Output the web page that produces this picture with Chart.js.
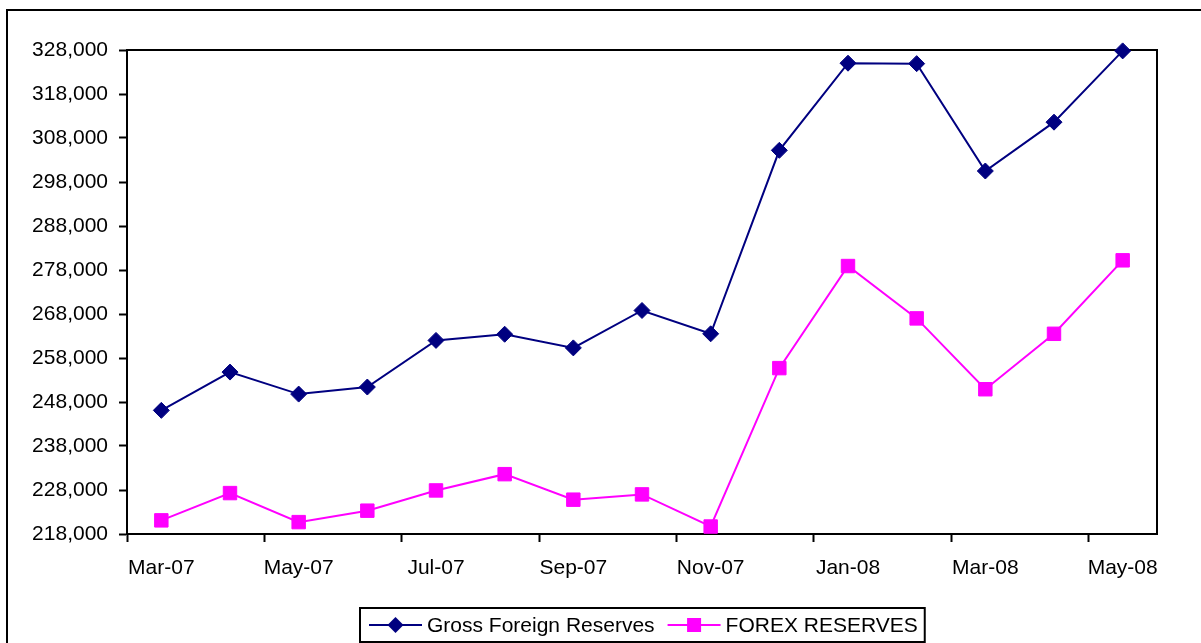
<!DOCTYPE html>
<html>
<head>
<meta charset="utf-8">
<script src="https://cdn.jsdelivr.net/npm/chart.js@4.4.1/dist/chart.umd.min.js"></script>
<style>
html,body{margin:0;padding:0;background:#fff;}
</style>
</head>
<body>
<canvas id="reserveChart" width="1201" height="643"></canvas>
<script>

/* ================= DATA ================= */
const months=[
"Mar-07","Apr-07","May-07","Jun-07","Jul-07","Aug-07","Sep-07",
"Oct-07","Nov-07","Dec-07","Jan-08","Feb-08","Mar-08","Apr-08","May-08"
];

const grossReserves=[
246100,254800,249800,251400,262000,263400,260300,
268800,263500,305200,325000,324900,300500,311600,327800
];

const forexReserves=[
221100,227300,220700,223300,227900,231600,225800,
227000,219700,255700,278900,267000,250900,263500,280200
];

const seriesNames=["Gross Foreign Reserves","FOREX RESERVES"];

const yMin=218000;
const yMax=328000;
const yStep=10000;

const FONT="'Liberation Sans', Arial, sans-serif";
const FONT_SIZE=21;

/* ================= PLUGINS ================= */
/* outer frame + plot box */
const framePlugin={
id:"frame",
beforeDraw(chart){
const ctx=chart.ctx;
ctx.save();
ctx.strokeStyle="#000";
ctx.lineWidth=2;
ctx.strokeRect(7,10,1400,800);
ctx.restore();
},
beforeDatasetsDraw(chart){
const a=chart.chartArea;
const ctx=chart.ctx;
ctx.save();
ctx.strokeStyle="#000";
ctx.lineWidth=2;
ctx.strokeRect(a.left,a.top,a.right-a.left,a.bottom-a.top);
ctx.restore();
}
};

/* legend: line with marker, boxed */
const legendPlugin={
id:"lineLegend",
afterDraw(chart){
const ctx=chart.ctx;
const a=chart.chartArea;
ctx.save();
ctx.font=FONT_SIZE+"px "+FONT;
const lineLen=53, gapText=5, gapItem=13, padL=9, padR=7;
const ds=chart.data.datasets;
const widths=ds.map(d=>ctx.measureText(d.label).width);
let total=padL+padR-gapItem;
widths.forEach(w=>{ total+=lineLen+gapText+w+gapItem; });
const cx=(a.left+a.right)/2;
const boxL=Math.round(cx-total/2);
const boxT=608, boxH=34;
const midY=boxT+boxH/2;
ctx.strokeStyle="#000";
ctx.lineWidth=2;
ctx.strokeRect(boxL,boxT,total,boxH);
let x=boxL+padL;
ds.forEach((d,i)=>{
ctx.strokeStyle=d.borderColor;
ctx.lineWidth=2;
ctx.beginPath();
ctx.moveTo(x,midY);
ctx.lineTo(x+lineLen,midY);
ctx.stroke();
const mx=x+lineLen/2;
ctx.fillStyle=d.pointBackgroundColor;
ctx.beginPath();
if(d.pointStyle==="rectRot"){
ctx.moveTo(mx-8,midY);
ctx.lineTo(mx,midY-8);
ctx.lineTo(mx+8,midY);
ctx.lineTo(mx,midY+8);
ctx.closePath();
}else{
ctx.rect(mx-7,midY-7,14,14);
}
ctx.fill();
ctx.fillStyle="#000";
ctx.textBaseline="middle";
ctx.textAlign="left";
ctx.fillText(d.label,x+lineLen+gapText,midY+1);
x+=lineLen+gapText+widths[i]+gapItem;
});
ctx.restore();
}
};

/* ================= CHART ================= */
new Chart(
document.getElementById("reserveChart"),
{
type:"line",
data:{
labels:months,
datasets:[
{
label:seriesNames[0],
data:grossReserves,
borderColor:"#000080",
backgroundColor:"#000080",
pointBackgroundColor:"#000080",
pointBorderColor:"#000080",
borderWidth:2,
pointStyle:"rectRot",
pointRadius:8,
pointBorderWidth:1,
tension:0,
clip:false
},
{
label:seriesNames[1],
data:forexReserves,
borderColor:"#FF00FF",
backgroundColor:"#FF00FF",
pointBackgroundColor:"#FF00FF",
pointBorderColor:"#FF00FF",
borderWidth:2,
pointStyle:"rect",
pointRadius:9.5,
pointBorderWidth:1,
tension:0,
clip:false
}
]
},
options:{
responsive:false,
animation:false,
devicePixelRatio:1,
layout:{
padding:{left:0,right:44,top:50,bottom:59}
},
plugins:{
legend:{display:false},
tooltip:{enabled:false}
},
scales:{
x:{
offset:true,
grid:{
offset:true,
drawOnChartArea:false,
drawTicks:true,
tickLength:8,
tickWidth:2,
tickColor:(c)=>c.index%2===0?"#000":"rgba(0,0,0,0)"
},
border:{display:true,color:"#000",width:2},
ticks:{
autoSkip:false,
maxRotation:0,
padding:14,
color:"#000",
font:{family:FONT,size:FONT_SIZE},
callback:function(v,i){
return i%2===0?this.getLabelForValue(v):"";
}
},
afterFit(scale){ scale.height=50; }
},
y:{
min:yMin,
max:yMax,
grid:{
drawOnChartArea:false,
drawTicks:true,
tickLength:8,
tickWidth:2,
tickColor:"#000"
},
border:{display:true,color:"#000",width:2},
ticks:{
stepSize:yStep,
padding:11,
color:"#000",
font:{family:FONT,size:FONT_SIZE},
callback:(v)=>Number(v).toLocaleString("en-US")
},
afterFit(scale){ scale.width=127; }
}
}
},
plugins:[framePlugin,legendPlugin]
}
);

</script>
</body>
</html>
